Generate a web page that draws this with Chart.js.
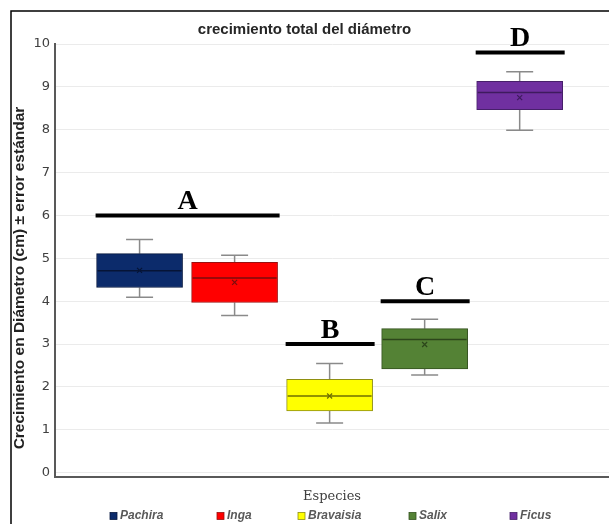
<!DOCTYPE html>
<html>
<head>
<meta charset="utf-8">
<script src="https://cdn.jsdelivr.net/npm/chart.js@4/dist/chart.umd.min.js"></script>
<style>
  html, body { margin: 0; padding: 0; background: #ffffff; }
  #wrap { width: 609px; height: 524px; }
</style>
</head>
<body>
<div id="wrap"><canvas id="c" width="609" height="524"></canvas></div>
<script>
// Five-number summaries and means of total diameter growth (cm) per species
const species    = ['Pachira', 'Inga', 'Bravaisia', 'Salix', 'Ficus'];
const minVals    = [4.09, 3.67, 1.16, 2.28, 7.99];
const q1Vals     = [4.32, 3.97, 1.44, 2.42, 8.47];
const medianVals = [4.71, 4.54, 1.79, 3.11, 8.87];
const q3Vals     = [5.11, 4.91, 2.18, 3.36, 9.13];
const maxVals    = [5.44, 5.07, 2.55, 3.58, 9.35];
const meanVals   = [4.72, 4.44, 1.79, 2.99, 8.75];

// Value axis ticks
const yTicks = [0, 1, 2, 3, 4, 5, 6, 7, 8, 9, 10];

// Significance groups: letter, level of the bar, first and last species index
const groupLetters = ['A', 'B', 'C', 'D'];
const groupLevel   = [6.0, 3.0, 4.0, 9.8];
const groupFirst   = [0, 2, 3, 4];
const groupLast    = [1, 2, 3, 4];

// Styling
const fillColors   = ['#0c2b6b', '#ff0000', '#ffff00', '#548235', '#7030a0'];
const edgeColors   = ['#07183f', '#9a1010', '#8f8f10', '#34521f', '#47206a'];
const medianColors = ['#061436', '#7a0c0c', '#6f6f00', '#2c461b', '#3e1b5e'];
const whiskerColor = '#8a8a8a';
const BOX_WIDTH = 86;
const CAP_WIDTH = 27;
const yAxisTitle = 'Crecimiento en Diámetro (cm) ± error estándar';
const legendX = [110, 217, 298, 409, 510];   // left edge of each legend swatch
const legendY = 516;

const boxDecor = {
  id: 'boxDecor',
  beforeDraw(chart) {
    const ctx = chart.ctx;
    ctx.save();
    ctx.fillStyle = '#ffffff';
    ctx.fillRect(0, 0, chart.width, chart.height);
    ctx.restore();
  },
  beforeDatasetsDraw(chart) {
    const ctx = chart.ctx, y = chart.scales.y;
    ctx.save();
    ctx.strokeStyle = whiskerColor;
    ctx.lineWidth = 1.5;
    species.forEach((s, i) => {
      const bar = chart.getDatasetMeta(i).data[0];
      const cx = bar.x;
      const pMin = y.getPixelForValue(minVals[i]);
      const pMax = y.getPixelForValue(maxVals[i]);
      const pQ1 = y.getPixelForValue(q1Vals[i]);
      const pQ3 = y.getPixelForValue(q3Vals[i]);
      ctx.beginPath();
      ctx.moveTo(cx, pQ3); ctx.lineTo(cx, pMax);
      ctx.moveTo(cx, pQ1); ctx.lineTo(cx, pMin);
      ctx.moveTo(cx - CAP_WIDTH / 2, pMax); ctx.lineTo(cx + CAP_WIDTH / 2, pMax);
      ctx.moveTo(cx - CAP_WIDTH / 2, pMin); ctx.lineTo(cx + CAP_WIDTH / 2, pMin);
      ctx.stroke();
    });
    ctx.restore();
  },
  afterDatasetsDraw(chart) {
    const ctx = chart.ctx, y = chart.scales.y;
    ctx.save();
    // medians and means
    species.forEach((s, i) => {
      const bar = chart.getDatasetMeta(i).data[0];
      const cx = bar.x, half = BOX_WIDTH / 2;
      const pMed = y.getPixelForValue(medianVals[i]);
      ctx.strokeStyle = medianColors[i];
      ctx.lineWidth = 1.5;
      ctx.beginPath();
      ctx.moveTo(cx - half + 1, pMed); ctx.lineTo(cx + half - 1, pMed);
      ctx.stroke();
      const pMean = y.getPixelForValue(meanVals[i]);
      const m = 2.5;
      ctx.lineWidth = 1.2;
      ctx.beginPath();
      ctx.moveTo(cx - m, pMean - m); ctx.lineTo(cx + m, pMean + m);
      ctx.moveTo(cx - m, pMean + m); ctx.lineTo(cx + m, pMean - m);
      ctx.stroke();
    });
    // significance groups
    groupLetters.forEach((letter, g) => {
      const a = chart.getDatasetMeta(groupFirst[g]).data[0];
      const b = chart.getDatasetMeta(groupLast[g]).data[0];
      const x0 = a.x - BOX_WIDTH / 2 - 1;
      const x1 = b.x + BOX_WIDTH / 2 + 2;
      const py = y.getPixelForValue(groupLevel[g]);
      ctx.strokeStyle = '#000000';
      ctx.lineWidth = 4;
      ctx.beginPath();
      ctx.moveTo(x0, py); ctx.lineTo(x1, py);
      ctx.stroke();
      ctx.fillStyle = '#000000';
      ctx.font = 'bold 28px "Liberation Serif", "DejaVu Serif", serif';
      ctx.textAlign = 'center';
      ctx.textBaseline = 'alphabetic';
      ctx.fillText(letter, (x0 + x1) / 2, py - 6.5);
    });
    ctx.restore();
  },
  afterDraw(chart) {
    const ctx = chart.ctx;
    ctx.save();
    // vertical axis title
    ctx.translate(20, 278);
    ctx.rotate(-Math.PI / 2);
    ctx.fillStyle = '#222222';
    ctx.font = 'bold 15.5px "Liberation Sans", Arial, sans-serif';
    ctx.textAlign = 'center';
    ctx.textBaseline = 'middle';
    ctx.fillText(yAxisTitle, 0, 0);
    ctx.restore();

    // legend
    ctx.save();
    ctx.font = 'italic bold 12px "Liberation Sans", Arial, sans-serif';
    ctx.textBaseline = 'middle';
    ctx.textAlign = 'left';
    species.forEach((s, i) => {
      const x = legendX[i];
      ctx.fillStyle = fillColors[i];
      ctx.fillRect(x, legendY - 3.5, 7, 7);
      ctx.strokeStyle = edgeColors[i];
      ctx.lineWidth = 0.8;
      ctx.strokeRect(x, legendY - 3.5, 7, 7);
      ctx.fillStyle = '#595959';
      ctx.fillText(s, x + 10, legendY);
    });
    ctx.restore();

    // outer frame
    ctx.save();
    ctx.strokeStyle = '#000000';
    ctx.lineWidth = 1.5;
    ctx.strokeRect(11, 11, 700, 700);
    ctx.restore();
  }
};

new Chart(document.getElementById('c'), {
  type: 'bar',
  data: {
    datasets: species.map((s, i) => ({
      label: s,
      data: [{ x: i + 1, y: [q1Vals[i], q3Vals[i]] }],
      backgroundColor: fillColors[i],
      borderColor: edgeColors[i],
      borderWidth: 1,
      borderSkipped: false,
      barThickness: BOX_WIDTH,
      grouped: false
    }))
  },
  options: {
    responsive: false,
    animation: false,
    devicePixelRatio: 1,
    layout: { padding: { top: 0, left: 0, right: 0, bottom: 20 } },
    plugins: {
      legend: { display: false },
      tooltip: { enabled: false },
      title: {
        display: true,
        text: 'crecimiento total del diámetro',
        color: '#262626',
        font: { family: '"Liberation Sans", Arial, sans-serif', size: 15, weight: 'bold', lineHeight: 1.2 },
        padding: { top: 21, bottom: 5 }
      }
    },
    scales: {
      x: {
        type: 'linear',
        offset: false,
        min: 0.11,
        max: 5.94,
        grid: { display: false, drawTicks: false, offset: false },
        ticks: { display: false },
        border: { display: true, color: '#595959', width: 2 },
        title: {
          display: true,
          text: 'Especies',
          color: '#404040',
          font: { family: '"DejaVu Serif", serif', size: 13 },
          padding: 0
        },
        afterFit(scale) { scale.height = 27; }
      },
      y: {
        min: -0.1,
        max: 10,
        afterBuildTicks(scale) { scale.ticks = yTicks.map(v => ({ value: v })); },
        ticks: {
          color: '#404040',
          font: { family: '"DejaVu Sans", sans-serif', size: 13 },
          padding: 5
        },
        grid: { color: '#ebebeb', drawTicks: false },
        border: { color: '#595959', width: 2 },
        afterFit(scale) { scale.width = 55; }
      }
    }
  },
  plugins: [boxDecor]
});
</script>
</body>
</html>
